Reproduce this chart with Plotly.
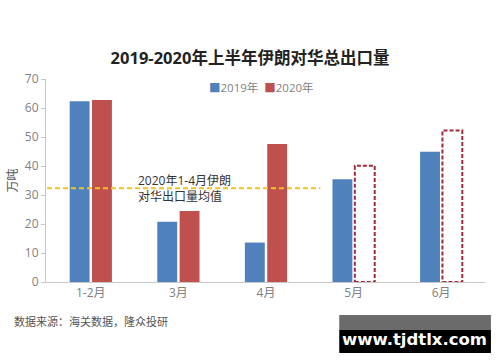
import plotly.graph_objects as go

categories = ["1-2月", "3月", "4月", "5月", "6月"]
values_2019 = [62.3, 20.8, 13.6, 35.4, 44.9]
values_2020 = [62.8, 24.5, 47.6, 40.1, 52.2]
is_forecast_2020 = [False, False, False, True, True]
avg_2020_jan_apr = 32.3
series_names = ["2019年", "2020年"]

BLUE = "#4F81BD"
RED = "#C0504D"
DASH_RED = "#9E2A3A"
YELLOW = "#F2C318"
FONT = "Open Sans, Noto Sans CJK SC, sans-serif"

bargap = 0.49
bargroupgap = 0.11

fig = go.Figure()
fig.add_trace(go.Bar(
    x=categories, y=values_2019, name=series_names[0], showlegend=False,
    marker=dict(color=BLUE, line=dict(width=0)),
))
fig.add_trace(go.Bar(
    x=categories, y=values_2020, name=series_names[1], showlegend=False,
    marker=dict(color=[("rgba(0,0,0,0)" if f else RED) for f in is_forecast_2020],
                line=dict(width=0)),
))

# dashed outlines for forecast bars (positions derived from bar layout params)
slot = (1 - bargap) / 2
bw = slot * (1 - bargroupgap)
shapes = []
for i, (v, f) in enumerate(zip(values_2020, is_forecast_2020)):
    if f:
        c = i + slot / 2
        shapes.append(dict(type="rect", xref="x", yref="y",
                           x0=c - bw / 2, x1=c + bw / 2, y0=0, y1=v,
                           line=dict(color=DASH_RED, width=2, dash="4px,2px"),
                           fillcolor="rgba(0,0,0,0)", layer="above"))

# average line
shapes.append(dict(type="line", xref="x", yref="y",
                   x0=-0.5, x1=2.62, y0=avg_2020_jan_apr, y1=avg_2020_jan_apr,
                   line=dict(color=YELLOW, width=2, dash="5px,3px"), layer="above"))

# watermark boxes
shapes.append(dict(type="rect", xref="paper", yref="paper",
                   x0=0.668, x1=1.0135, y0=-0.2365, y1=-0.1626,
                   fillcolor="#6B6B6B", line=dict(width=0)))
shapes.append(dict(type="rect", xref="paper", yref="paper",
                   x0=0.668, x1=1.0135, y0=-0.3498, y1=-0.2365,
                   fillcolor="#000000", line=dict(width=0)))

legend_text = (f"<span style='color:{BLUE}'>■</span>{series_names[0]}  "
               f"<span style='color:{RED}'>■</span>{series_names[1]}")

annotations = [
    dict(text=legend_text, xref="paper", yref="paper",
         x=(204 - 42) / 443, y=(282 - 88) / 203, xanchor="left", yanchor="middle",
         showarrow=False, font=dict(family=FONT, size=11.5, color="#7F7F7F")),
    dict(text="2020年1-4月伊朗<br>对华出口量均值", xref="x", yref="y",
         x=0.52, y=avg_2020_jan_apr, xanchor="left", yanchor="middle",
         align="left", showarrow=False,
         font=dict(family=FONT, size=12, color="#333333")),
    dict(text="数据来源：海关数据，隆众投研", xref="paper", yref="paper",
         x=-0.077, y=-0.197, xanchor="left", yanchor="middle", showarrow=False,
         font=dict(family=FONT, size=11, color="#555555")),
    dict(text="<b>www.tjdtlx.com</b>", xref="paper", yref="paper",
         x=0.8405, y=-0.283, xanchor="center", yanchor="middle", showarrow=False,
         font=dict(family="DejaVu Sans, sans-serif", size=16.5, color="#FFFFFF")),
]

fig.update_layout(
    width=500, height=362,
    margin=dict(l=42, r=15, t=79, b=80),
    paper_bgcolor="white", plot_bgcolor="white",
    barmode="group", bargap=bargap, bargroupgap=bargroupgap,
    showlegend=False,
    title=dict(text="<b>2019-2020年上半年伊朗对华总出口量</b>",
               x=0.5, xanchor="center", y=1 - 58 / 362, yanchor="middle",
               font=dict(family=FONT, size=16.5, color="#222222")),
    font=dict(family=FONT),
    xaxis=dict(showline=True, linecolor="#C8C8C8", linewidth=1, ticks="",
               showgrid=False, tickfont=dict(family=FONT, size=12, color="#7F7F7F")),
    yaxis=dict(range=[0, 70], dtick=10, showline=True, linecolor="#C8C8C8",
               linewidth=1, ticks="outside", ticklen=4, tickcolor="#C8C8C8",
               showgrid=False, zeroline=False,
               tickfont=dict(family=FONT, size=12, color="#7F7F7F"),
               title=dict(text="万吨", standoff=4,
                          font=dict(family=FONT, size=12, color="#555555"))),
    shapes=shapes, annotations=annotations,
)

fig.write_html("out.html", config={"displayModeBar": False},
               post_script="document.body.style.margin='0';document.body.style.padding='0';")
